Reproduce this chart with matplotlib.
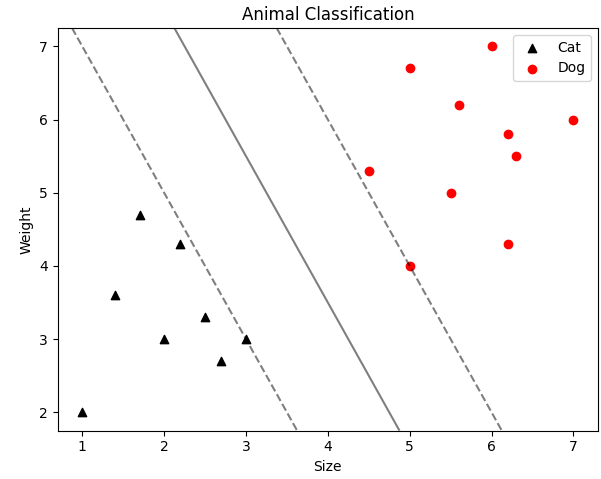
import matplotlib
matplotlib.use('Agg')
import matplotlib.pyplot as plt
import numpy as np

# cat samples (size, weight)
cat_size = [1, 1.4, 1.7, 2, 2.2, 2.5, 2.7, 3]
cat_weight = [2, 3.6, 4.7, 3, 4.3, 3.3, 2.7, 3]

# dog samples (size, weight)
dog_size = [4.5, 5, 5, 5.5, 5.6, 6, 6.2, 6.3, 6.2, 7]
dog_weight = [5.3, 6.7, 4, 5, 6.2, 7, 5.8, 5.5, 4.3, 6]

# linear svm decision function: w . (x, y) + b
coef = [0.8, 0.4]
intercept = -4.6
levels = [-1, 0, 1]

fig = plt.figure(figsize=(6.01, 4.79), dpi=100)
ax = fig.add_subplot(111)
fig.subplots_adjust(left=0.096, right=0.995, bottom=0.101, top=0.9415)

ax.scatter(cat_size, cat_weight, c='black', marker='^', label='Cat')
ax.scatter(dog_size, dog_weight, c='red', marker='o', label='Dog')

xlim = ax.get_xlim()
ylim = ax.get_ylim()
xx, yy = np.meshgrid(np.linspace(xlim[0], xlim[1], 300), np.linspace(ylim[0], ylim[1], 300))
zz = coef[0]*xx + coef[1]*yy + intercept
ax.contour(xx, yy, zz, colors='k', levels=levels, alpha=0.5, linestyles=['--', '-', '--'])
ax.set_xlim(xlim)
ax.set_ylim(ylim)

ax.set_title('Animal Classification')
ax.set_xlabel('Size')
ax.set_ylabel('Weight')
ax.legend(loc='upper right')

plt.savefig('out.png', dpi=100)
